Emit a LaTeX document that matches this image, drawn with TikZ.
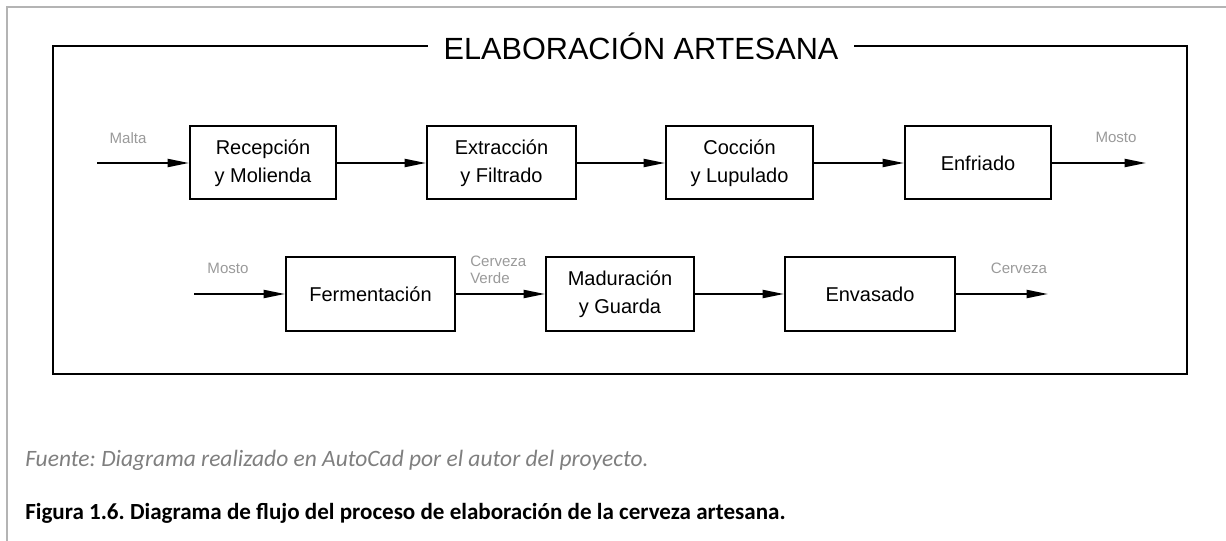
\documentclass[tikz,border=0pt]{standalone}
\usepackage{fontspec}
\setmainfont{Liberation Sans}
\newfontfamily\capfont{Carlito}
\usetikzlibrary{arrows.meta}
\frenchspacing
\definecolor{pageborder}{HTML}{B4B4B4}
\definecolor{labelgray}{HTML}{9A9A9A}
\definecolor{sourcegray}{HTML}{7F7F7F}
\tikzset{
  procbox/.style={draw=black, line width=1.5pt, minimum height=54.75pt, align=center,
    font=\fontsize{15}{21}\selectfont, inner sep=0pt},
  flow/.style={line width=1.5pt, -{Triangle[length=16pt,width=6pt]}},
  flowlabel/.style={text=labelgray, font=\fontsize{11.3}{12}\selectfont, inner sep=0pt},
}
\begin{document}
\begin{tikzpicture}[x=0.75pt, y=-0.75pt]
\useasboundingbox (0,0) rectangle (1226,541);
% page border
\draw[pageborder, line width=1.5pt] (7,541) -- (7,7) -- (1226,7);
% outer frame
\draw[line width=1.5pt] (53,46) rectangle (1187,374);
\node[fill=white, inner xsep=12pt, inner ysep=2pt, font=\fontsize{23}{28}\selectfont] (title) at (641,46) {ELABORACIÓN ARTESANA};
% row 1
\node[procbox, minimum width=109.5pt] (b1) at (263,163) {Recepción\\y Molienda};
\node[procbox, minimum width=111.75pt] (b2) at (501.5,163) {Extracción\\y Filtrado};
\node[procbox, minimum width=110.25pt] (b3) at (739.5,163) {Cocción\\y Lupulado};
\node[procbox, minimum width=109.5pt] (b4) at (978,163) {Enfriado};
\coordinate (in1) at (97,163);
\coordinate (out1) at (1146,163);
\draw[flow] (in1) -- (b1.west);
\draw[flow] (b1.east) -- (b2.west);
\draw[flow] (b2.east) -- (b3.west);
\draw[flow] (b3.east) -- (b4.west);
\draw[flow] (b4.east) -- (out1);
\node[flowlabel] (lmalta) at (128,138) {Malta};
\node[flowlabel] (lmosto1) at (1116,137) {Mosto};
% row 2
\node[procbox, minimum width=126.75pt] (c1) at (370.5,294) {Fermentación};
\node[procbox, minimum width=111pt] (c2) at (620,294) {Maduración\\y Guarda};
\node[procbox, minimum width=127.5pt] (c3) at (870,294) {Envasado};
\coordinate (in2) at (194,294);
\coordinate (out2) at (1048,294);
\draw[flow] (in2) -- (c1.west);
\draw[flow] (c1.east) -- (c2.west);
\draw[flow] (c2.east) -- (c3.west);
\draw[flow] (c3.east) -- (out2);
\node[flowlabel] (lmosto2) at (228,268) {Mosto};
\node[flowlabel, anchor=west, align=left, font=\fontsize{11.3}{12.75}\selectfont] (lverde) at (470,269.5) {Cerveza\\Verde};
\node[flowlabel] (lcerveza) at (1019,268) {Cerveza};
% captions
\node[anchor=west, inner sep=0pt, text=sourcegray, font=\capfont\itshape\fontsize{17.6}{19}\selectfont] (fuente) at (25,460) {Fuente: Diagrama realizado en AutoCad por el autor del proyecto.};
\node[anchor=west, inner sep=0pt, font=\capfont\bfseries\fontsize{17.3}{19}\selectfont] (figura) at (25,513) {Figura 1.6. Diagrama de flujo del proceso de elaboración de la cerveza artesana.};
\end{tikzpicture}
\end{document}
